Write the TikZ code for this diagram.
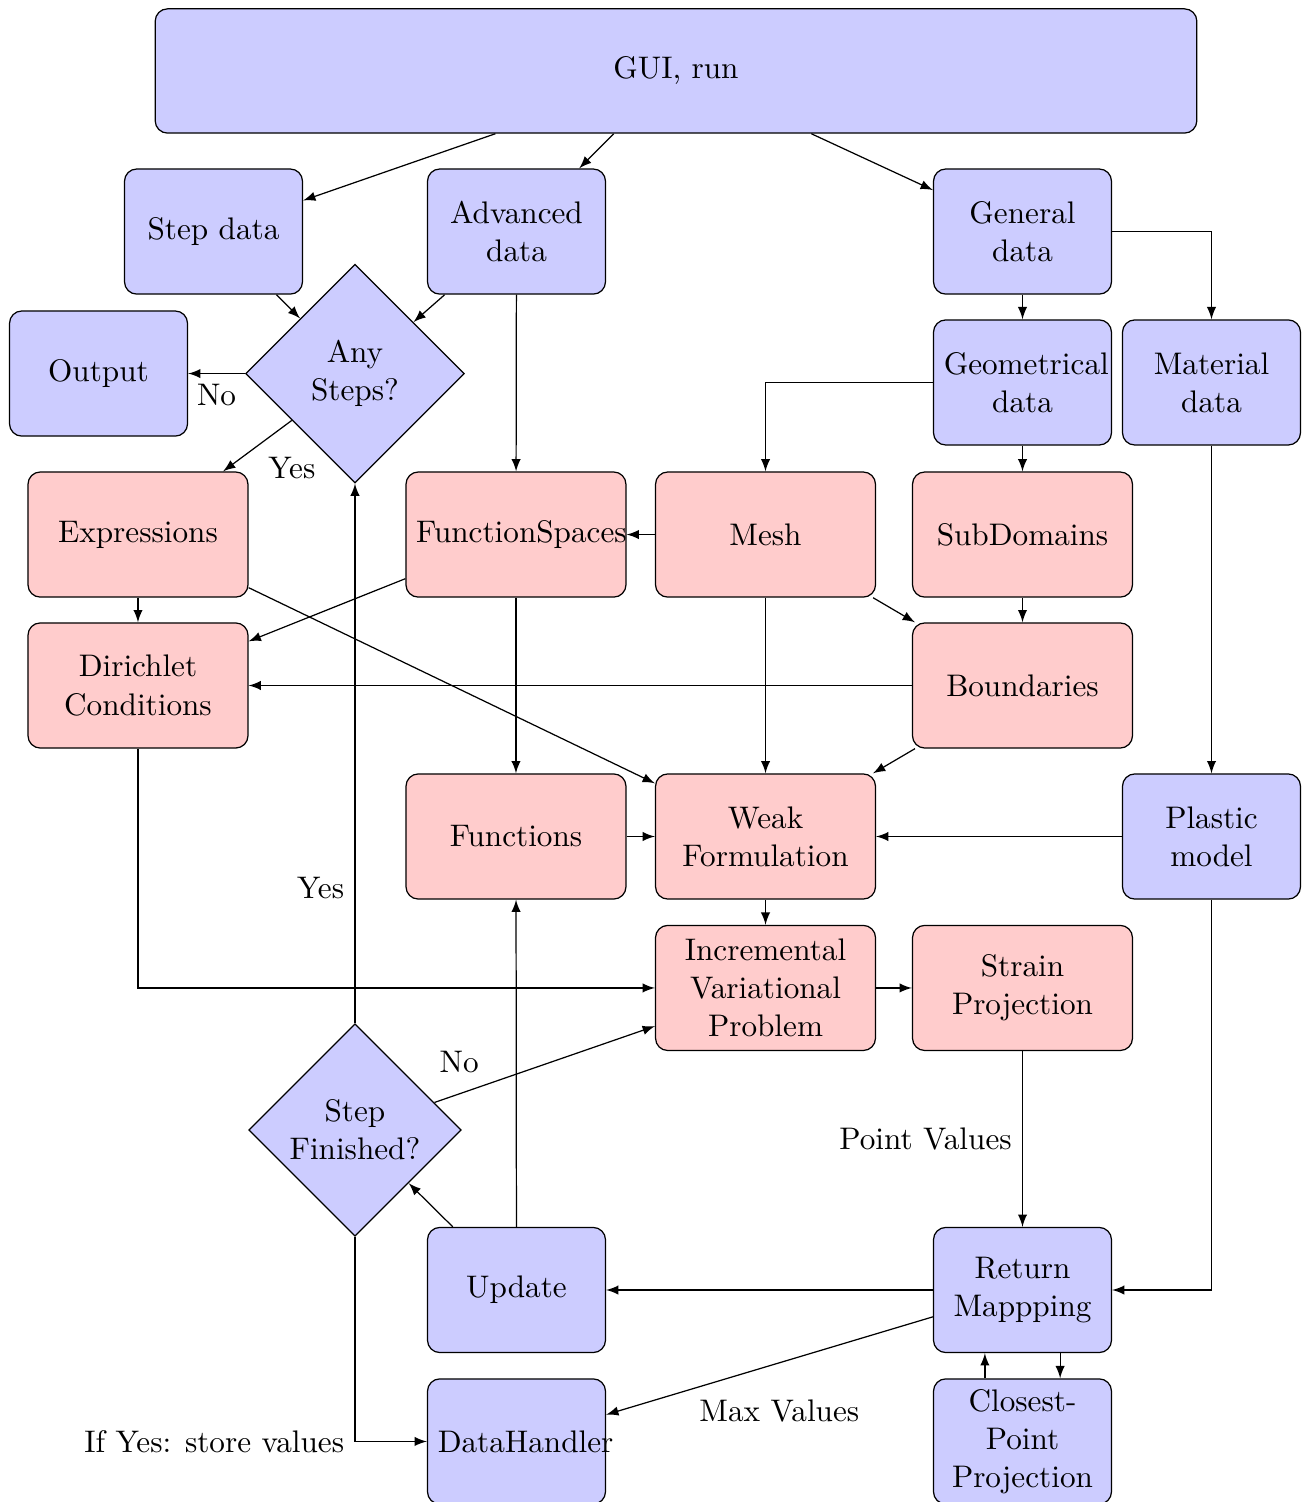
\documentclass[tikz,border=0pt]{standalone}
\usepackage{amsmath,amssymb}
\usetikzlibrary{shapes.geometric,arrows,positioning}
\hyphenpenalty=10000

\begin{document}
\begin{tikzpicture}[font=\fontsize{10.15pt}{12.4pt}\selectfont,
    bluebox/.style={rectangle, draw, rounded corners, fill=blue!20,
      text width=1.8cm, align=center, minimum height=1.43cm},
    redbox/.style={rectangle, draw, rounded corners, fill=red!20,
      text width=2.28cm, align=center, minimum height=1.43cm},
    decision/.style={diamond, draw, fill=blue!20, align=center,
      inner sep=0pt, minimum size=2.5cm},
    line/.style={draw, -latex}]

  \useasboundingbox (0,0) rectangle (14.994,-17.166);

  % input
  \node[bluebox, text width=11.67cm, minimum height=1.42cm] (gui) at (7.726,-0.811) {GUI, run};
  \node[bluebox] (stepdata) at (2.44,-2.646) {Step data};
  \node[bluebox] (advdata) at (5.903,-2.646) {Advanced data};
  \node[bluebox] (gendata) at (11.686,-2.646) {General data};
  \node[bluebox] (output) at (1.126,-4.269) {Output};
  \node[decision] (anysteps) at (4.057,-4.269) {Any\\Steps?};
  \node[bluebox] (geodata) at (11.686,-4.371) {Geometrical data};
  \node[bluebox] (matdata) at (13.846,-4.371) {Material data};

  % problem set-up
  \node[redbox] (expr) at (1.577,-6.109) {Expressions};
  \node[redbox] (fspaces) at (5.897,-6.109) {FunctionSpaces};
  \node[redbox] (mesh) at (8.749,-6.109) {Mesh};
  \node[redbox] (subdom) at (11.686,-6.109) {SubDomains};
  \node[redbox] (dirichlet) at (1.577,-7.834) {Dirichlet Conditions};
  \node[redbox] (bounds) at (11.686,-7.834) {Boundaries};
  \node[redbox] (funcs) at (5.897,-9.56) {Functions};
  \node[redbox] (weak) at (8.749,-9.56) {Weak Formulation};
  \node[bluebox] (plastic) at (13.846,-9.56) {Plastic model};
  \node[redbox] (incvar) at (8.749,-11.291) {Incremental Variational Problem};
  \node[redbox] (strain) at (11.686,-11.291) {Strain Projection};

  % step loop
  \node[decision, minimum size=2.43cm] (stepfin) at (4.057,-12.914) {Step\\Finished?};
  \node[bluebox] (update) at (5.903,-14.743) {Update};
  \node[bluebox] (retmap) at (11.686,-14.743) {Return Mappping};
  \node[bluebox] (datahandler) at (5.903,-16.474) {DataHandler};
  \node[bluebox] (closest) at (11.686,-16.474) {Closest-Point Projection};

  \path[line] (gui) -- (stepdata);
  \path[line] (gui) -- (advdata);
  \path[line] (gui) -- (gendata);
  \path[line] (stepdata) -- (anysteps);
  \path[line] (advdata) -- (anysteps);
  \path[line] (anysteps) -- node[below] {No} (output);
  \path[line] (anysteps) -- node[below right] {Yes} (expr);
  \path[line] (advdata) -- (fspaces);
  \path[line] (gendata) -- (geodata);
  \path[line] (gendata) -| (matdata);
  \path[line] (geodata) -| (mesh);
  \path[line] (geodata) -- (subdom);
  \path[line] (matdata) -- (plastic);

  \path[line] (mesh) -- (fspaces);
  \path[line] (expr) -- (dirichlet);
  \path[line] (fspaces) -- (dirichlet);
  \path[line] (expr) -- (weak);
  \path[line] (mesh) -- (bounds);
  \path[line] (subdom) -- (bounds);
  \path[line] (bounds) -- (dirichlet);
  \path[line] (fspaces) -- (funcs);
  \path[line] (mesh) -- (weak);
  \path[line] (bounds) -- (weak);
  \path[line] (funcs) -- (weak);
  \path[line] (plastic) -- (weak);
  \path[line] (weak) -- (incvar);
  \path[line] (dirichlet) |- (incvar);
  \path[line] (incvar) -- (strain);

  \path[line] (strain) -- node[left] {Point Values} (retmap);
  \path[line] (plastic) |- (retmap);
  \path[line] (retmap) -- (update);
  \path[line] (retmap) -- node[pos=0.47, below=3mm] {Max Values} (datahandler);
  \path[line] ([xshift=-4.3mm]closest.north) -- ([xshift=-4.3mm]retmap.south);
  \path[line] ([xshift=4.3mm]retmap.south) -- ([xshift=4.3mm]closest.north);
  \path[line] (update) -- (stepfin);
  \path[line] (update) -- (funcs);
  \path[line] (stepfin) -- node[near start, above left] {No} (incvar);
  \path[line] (stepfin) -- node[near start, left] {Yes} (anysteps);
  \path[line] (stepfin) |- node[left] {If Yes: store values} (datahandler);

\end{tikzpicture}
\end{document}
